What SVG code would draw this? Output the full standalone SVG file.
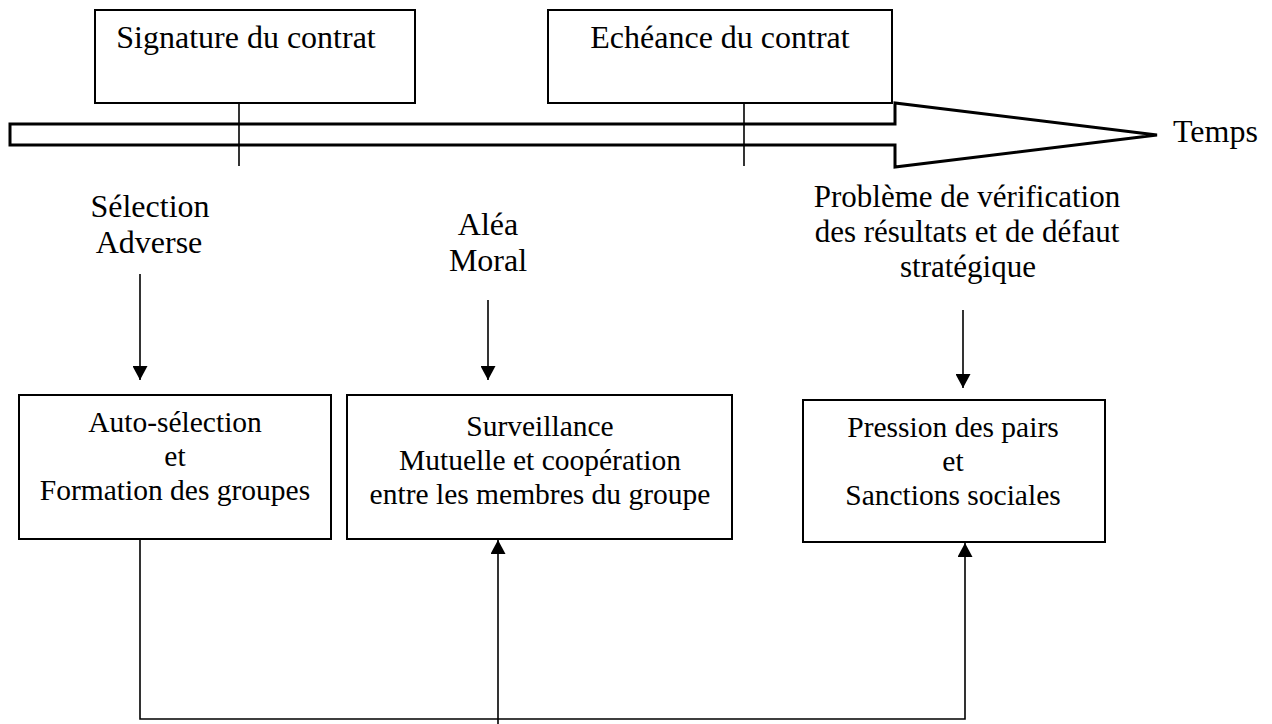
<svg xmlns="http://www.w3.org/2000/svg" width="1272" height="724" viewBox="0 0 1272 724">
<style>
text{font-family:"Liberation Serif","Times New Roman",serif;fill:#000;text-anchor:middle}
.lbl{font-size:32px}
.sub{font-size:31px}
.bx{font-size:29.5px}
.box{fill:#fff;stroke:#000;stroke-width:2}
.ln{fill:none;stroke:#000;stroke-width:1.6}
</style>
<defs>
<marker id="ah" viewBox="0 0 14 15" refX="14" refY="7.5" markerWidth="14" markerHeight="15" markerUnits="userSpaceOnUse" orient="auto">
<path d="M0,0 L14,7.5 L0,15 Z" fill="#000"/>
</marker>
</defs>
<rect width="1272" height="724" fill="#fff"/>
<g id="time-arrow">
<polygon points="10,124 895,124 895,103 1157,135 895,167 895,145 10,145" fill="#fff" stroke="#000" stroke-width="3" stroke-linejoin="miter"/>
<text x="1173" y="142" class="lbl" style="text-anchor:start">Temps</text>
</g>
<g id="signature">
<rect class="box" x="95" y="10" width="320" height="93"/>
<text x="246" y="48" class="lbl">Signature du contrat</text>
</g>
<g id="echeance">
<rect class="box" x="548" y="10" width="344" height="93"/>
<text x="720" y="48" class="lbl">Echéance du contrat</text>
</g>
<g id="label-selection">
<text x="150" y="217" class="lbl">Sélection</text>
<text x="149" y="253" class="lbl">Adverse</text>
</g>
<g id="label-alea">
<text x="488" y="235" class="lbl">Aléa</text>
<text x="488" y="271" class="lbl">Moral</text>
</g>
<g id="label-probleme">
<text x="967" y="207" class="sub">Problème de vérification</text>
<text x="967" y="242" class="sub">des résultats et de défaut</text>
<text x="968" y="277" class="sub">stratégique</text>
</g>
<g id="box-auto">
<rect class="box" x="19" y="395" width="312" height="144"/>
<text x="175" y="432" class="bx">Auto-sélection</text>
<text x="175" y="466" class="bx">et</text>
<text x="175" y="500" class="bx">Formation des groupes</text>
</g>
<g id="box-surveillance">
<rect class="box" x="347" y="395" width="385" height="144"/>
<text x="540" y="436" class="bx">Surveillance</text>
<text x="540" y="470" class="bx">Mutuelle et coopération</text>
<text x="540" y="504" class="bx">entre les membres du groupe</text>
</g>
<g id="box-pression">
<rect class="box" x="803" y="400" width="302" height="142"/>
<text x="953" y="437" class="bx">Pression des pairs</text>
<text x="953" y="471" class="bx">et</text>
<text x="953" y="505" class="bx">Sanctions sociales</text>
</g>
<g id="connectors">
<line class="ln" x1="239" y1="103" x2="239" y2="166"/>
<line class="ln" x1="744" y1="103" x2="744" y2="166"/>
<line class="ln" x1="140" y1="274" x2="140" y2="380" marker-end="url(#ah)"/>
<line class="ln" x1="488" y1="300" x2="488" y2="380" marker-end="url(#ah)"/>
<line class="ln" x1="963" y1="310" x2="963" y2="388" marker-end="url(#ah)"/>
<polyline class="ln" points="140,539 140,719 965,719 965,543" marker-end="url(#ah)"/>
<line class="ln" x1="498" y1="724" x2="498" y2="540" marker-end="url(#ah)"/>
</g>
</svg>
